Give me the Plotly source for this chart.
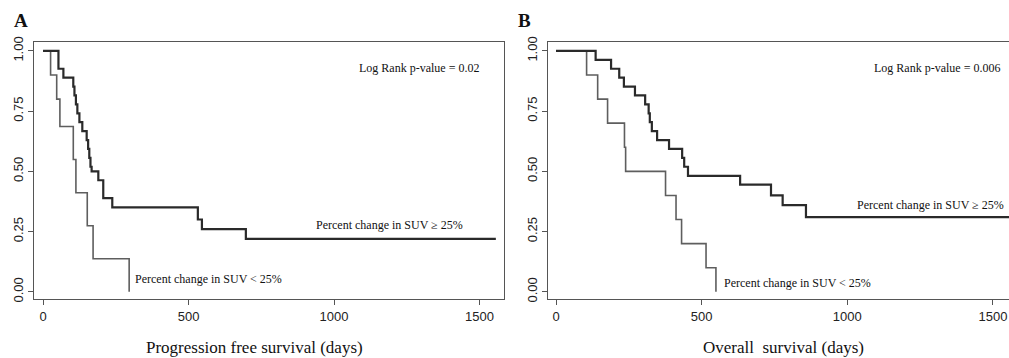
import plotly.graph_objects as go

# ---------------- data ----------------
# Panel A: progression free survival
pfs_high_t = [0, 53, 70, 104, 108, 113, 118, 125, 135, 150, 155, 159, 163, 167, 190, 207, 238, 532, 546, 697, 1556]
pfs_high_s = [1.0, 0.926, 0.889, 0.852, 0.815, 0.778, 0.741, 0.704, 0.667, 0.630, 0.593, 0.556, 0.519, 0.500,
              0.463, 0.389, 0.35, 0.30, 0.26, 0.22, 0.22]
pfs_low_t = [0, 26, 47, 58, 104, 113, 152, 172, 296]
pfs_low_s = [1.0, 0.9, 0.8, 0.686, 0.549, 0.411, 0.274, 0.137, 0.0]

# Panel B: overall survival
os_high_t = [0, 136, 189, 217, 233, 271, 306, 318, 322, 329, 347, 388, 433, 440, 453, 632, 738, 778, 858, 1560]
os_high_s = [1.0, 0.963, 0.926, 0.889, 0.852, 0.815, 0.778, 0.741, 0.704, 0.667, 0.630, 0.593, 0.556, 0.519,
             0.481, 0.445, 0.40, 0.36, 0.31, 0.31]
os_low_t = [0, 105, 143, 177, 235, 239, 376, 412, 431, 515, 549]
os_low_s = [1.0, 0.9, 0.8, 0.7, 0.6, 0.5, 0.4, 0.3, 0.2, 0.1, 0.0]

x_ticks = [0, 500, 1000, 1500]
y_ticks = [0, 0.25, 0.5, 0.75, 1.0]
y_tick_labels = ["0.00", "0.25", "0.50", "0.75", "1.00"]

label_high = "Percent change in SUV \u2265 25%"
label_low = "Percent change in SUV < 25%"

# ---------------- styles ----------------
W, H = 1009, 358
DARK = "#2a2a2a"
GREY = "#5e5e5e"
AX = "#555555"
SERIF = "Liberation Serif, Times New Roman, serif"
SANS = "Liberation Sans, Arial, sans-serif"

fig = go.Figure()

def km(t, s, xa, ya, color, width):
    fig.add_trace(go.Scatter(x=t, y=s, mode="lines", line=dict(shape="hv", color=color, width=width),
                             xaxis=xa, yaxis=ya, showlegend=False, hoverinfo="skip"))

km(pfs_low_t, pfs_low_s, "x", "y", GREY, 1.6)
km(pfs_high_t, pfs_high_s, "x", "y", DARK, 2.2)
km(os_low_t, os_low_s, "x2", "y2", GREY, 1.6)
km(os_high_t, os_high_s, "x2", "y2", DARK, 2.2)

ydom = [(358 - 299) / H, (358 - 42) / H]

def xaxis(domain, rng, anchor):
    return dict(domain=domain, range=rng, anchor=anchor, tickvals=x_ticks, ticks="outside", ticklen=5,
                tickcolor=AX, showline=True, linecolor=AX, linewidth=1, mirror=True, showgrid=False,
                zeroline=False, automargin=False, tickfont=dict(family=SANS, size=13, color="#222"))

def yaxis(domain, anchor, mirror):
    return dict(domain=domain, range=[-0.03, 1.037], anchor=anchor, tickvals=y_ticks, ticktext=y_tick_labels,
                ticks="outside", ticklen=5, tickcolor=AX, showline=True, linecolor=AX, linewidth=1,
                mirror=mirror, showgrid=False, zeroline=False, tickangle=-90, automargin=False,
                tickfont=dict(family=SANS, size=13, color="#222"))

ann_font = dict(family=SERIF, size=12, color="#111")

def paper_text(text, px, py, size, bold=False):
    return dict(text=f"<b>{text}</b>" if bold else text, x=px / W, y=1 - py / H, xref="paper", yref="paper",
                xanchor="center", yanchor="middle", showarrow=False,
                font=dict(family=SERIF, size=size, color="#111"))

def data_text(text, x, y, xa, ya, anchor):
    return dict(text=text, x=x, y=y, xref=xa, yref=ya, xanchor=anchor, yanchor="middle",
                showarrow=False, font=ann_font)

annotations = [
    paper_text("A", 21, 21, 19, bold=True),
    paper_text("B", 524, 21, 19, bold=True),
    paper_text("Progression free survival (days)", 255, 347, 17),
    paper_text("Overall\u00a0 survival (days)", 783, 347, 17),
    data_text("Log Rank p-value = 0.02", 1505, 0.928, "x", "y", "right"),
    data_text(label_high, 931, 0.277, "x", "y", "left"),
    data_text(label_low, 309, 0.052, "x", "y", "left"),
    data_text("Log Rank p-value = 0.006", 1531, 0.928, "x2", "y2", "right"),
    data_text(label_high, 1025, 0.36, "x2", "y2", "left"),
    data_text(label_low, 570, 0.036, "x2", "y2", "left"),
]

fig.update_layout(
    width=W, height=H, margin=dict(l=0, r=0, t=0, b=0, autoexpand=False),
    paper_bgcolor="white", plot_bgcolor="white",
    xaxis=xaxis([34 / W, 504 / W], [-31, 1584], "y"),
    yaxis=yaxis(ydom, "x", True),
    xaxis2=xaxis([548 / W, 1.0], [-27.5, 1555], "y2"),
    yaxis2=yaxis(ydom, "x2", False),
    annotations=annotations,
)

fig.write_html("out.html", config={"displayModeBar": False},
               post_script="document.body.style.margin='0px';document.body.style.overflow='hidden';")
